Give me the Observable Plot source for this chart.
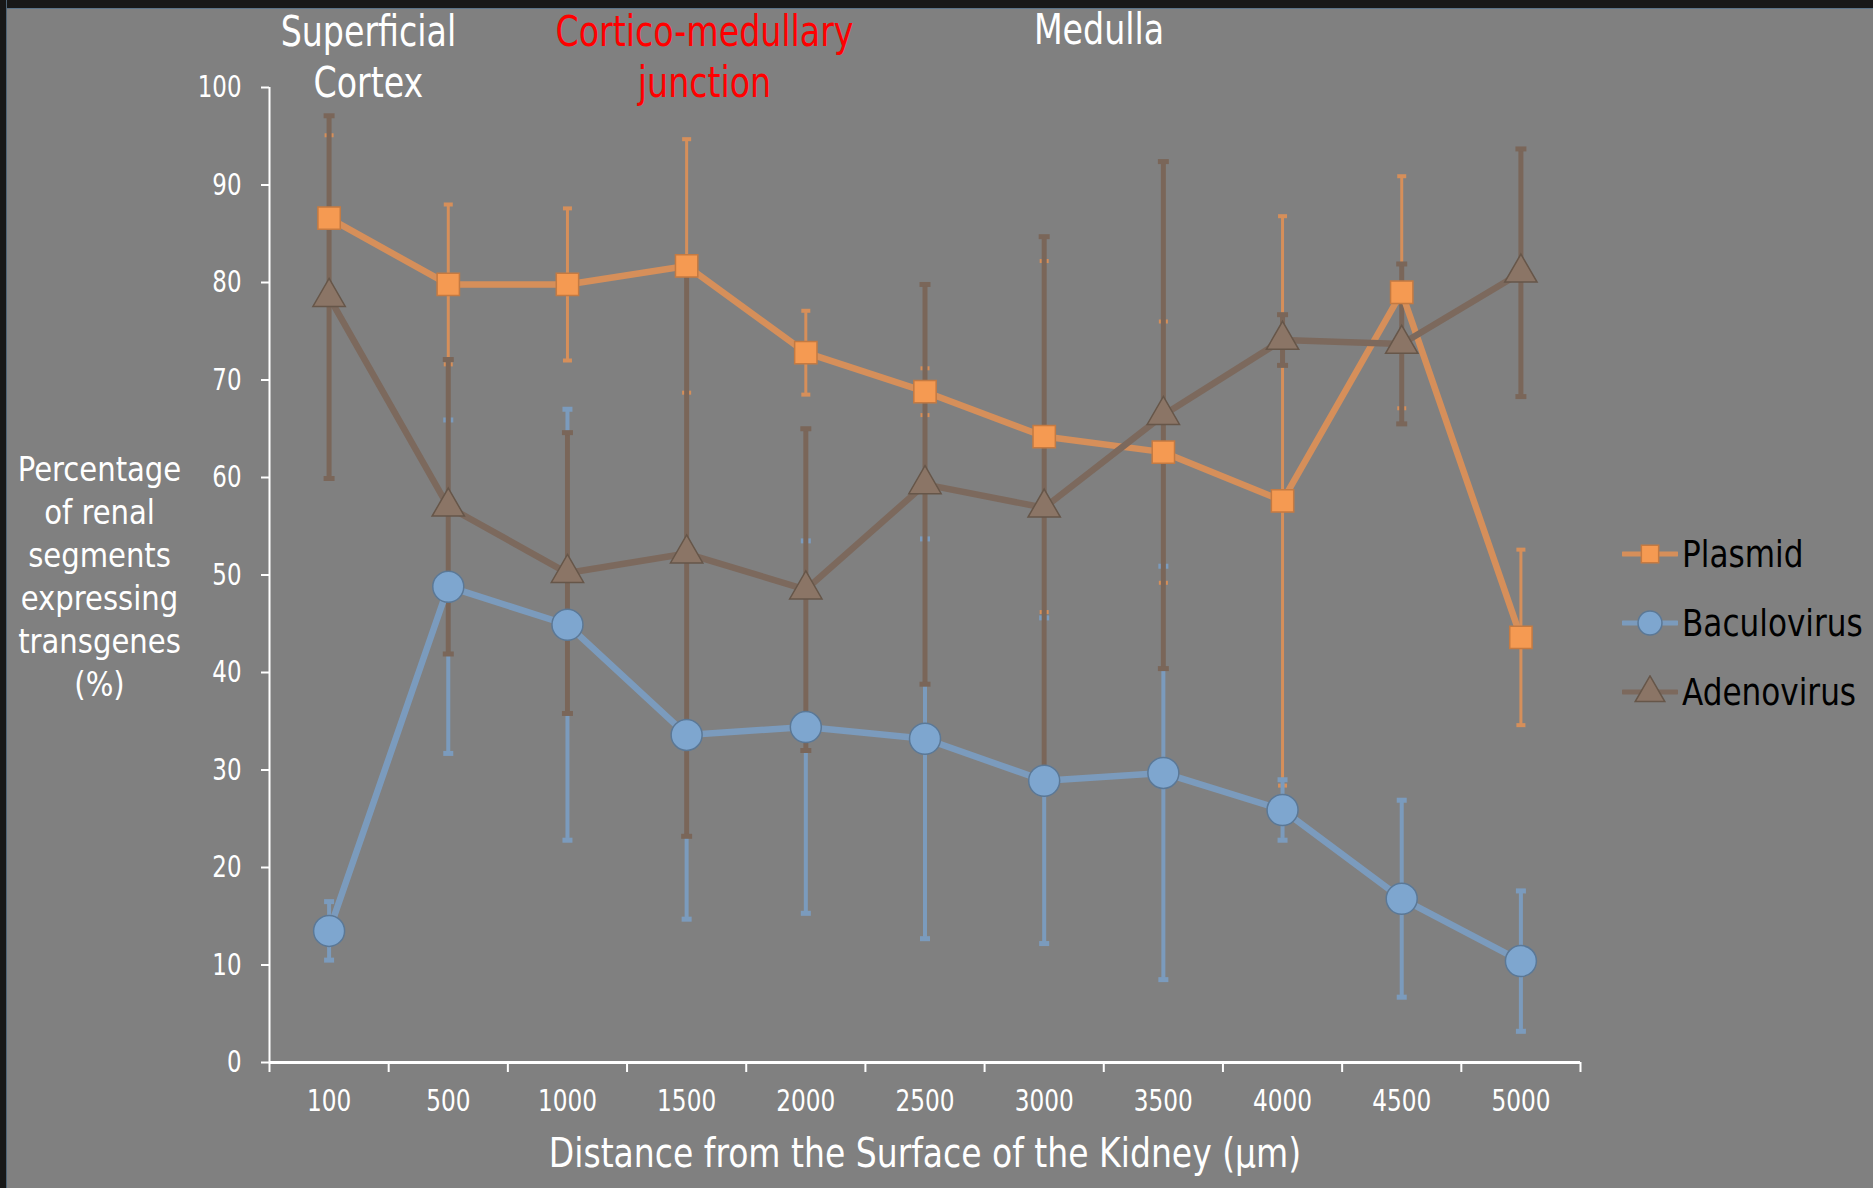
<!DOCTYPE html>
<html>
<head>
<meta charset="utf-8">
<script src="https://cdn.jsdelivr.net/npm/d3@7"></script>
<script src="https://cdn.jsdelivr.net/npm/@observablehq/plot@0.6"></script>
<style>
  html, body { margin: 0; padding: 0; background: #808080; }
  #wrap { position: relative; width: 1873px; height: 1188px; overflow: hidden; background: #808080; }
  #topbar { position: absolute; left: 0; top: 0; width: 1873px; height: 8px; background: #181818; border-bottom: 1px solid #5c7388; }
  #leftbar { position: absolute; left: 0; top: 0; width: 6px; height: 1188px; background: #181818; border-right: 1px solid #4f6476; }
  svg text { font-family: "DejaVu Sans Condensed", "Liberation Sans Narrow", "Liberation Sans", sans-serif; }
  #legend { position: absolute; left: 1622px; top: 519px; font-family: "DejaVu Sans Condensed", "Liberation Sans Narrow", "Liberation Sans", sans-serif; font-size: 38px; color: #000; }
  .row { display: flex; align-items: center; height: 69px; white-space: nowrap; }
  .row svg { margin-right: 4px; flex: none; }
  .row span { display: inline-block; transform: scaleX(0.91); transform-origin: 0 50%; }
</style>
</head>
<body>
<div id="wrap">
  <div id="chart"></div>
  <div id="legend"></div>
  <div id="topbar"></div>
  <div id="leftbar"></div>
</div>
<script>
// ---- data ----
const categories = ["100", "500", "1000", "1500", "2000", "2500", "3000", "3500", "4000", "4500", "5000"];
const seriesNames = ["Plasmid", "Baculovirus", "Adenovirus"];
const plasmid    = [86.6, 79.8, 79.8, 81.7, 72.8, 68.8, 64.2, 62.6, 57.6, 79.0, 43.6];
const plasmidErr = [8.5, 8.2, 7.8, 13.0, 4.3, 2.4, 18.0, 13.4, 29.2, 11.9, 9.0];
const baculo     = [13.5, 48.8, 44.9, 33.6, 34.4, 33.2, 28.9, 29.7, 25.9, 16.8, 10.4];
const baculoErr  = [3.0, 17.1, 22.1, 18.9, 19.1, 20.5, 16.7, 21.2, 3.1, 10.1, 7.2];
const adeno      = [78.5, 57.0, 50.2, 52.2, 48.5, 59.3, 56.9, 66.4, 74.1, 73.7, 81.0];
const adenoErr   = [18.6, 15.1, 14.4, 29.0, 16.5, 20.5, 27.8, 26.0, 2.6, 8.2, 12.7];
const yTicks = [0, 10, 20, 30, 40, 50, 60, 70, 80, 90, 100];
const xTitle = "Distance from the Surface of the Kidney (\u03bcm)";
const yTitle = "Percentage\nof renal\nsegments\nexpressing\ntransgenes\n(%)";
const zones = ["Superficial\nCortex", "Cortico-medullary\njunction", "Medulla"];

// ---- styles ----
const styles = {
  Plasmid:     {line: "#d68f5a", fill: "#f59a52", stroke: "#c47a42", err: "#d68f5a", errW: 3, capW: 9, capH: 4, symbol: "square", r: 12.6},
  Baculovirus: {line: "#7b9bbd", fill: "#7ea6cf", stroke: "#5b7896", err: "#7b9bbd", errW: 4, capW: 10, capH: 5, symbol: "circle", r: 15.5},
  Adenovirus:  {line: "#7c695d", fill: "#8b7566", stroke: "#665649", err: "#7a6659", errW: 5, capW: 11, capH: 5, symbol: "triangle", r: 12}
};

const valuesBy = {Plasmid: [plasmid, plasmidErr], Baculovirus: [baculo, baculoErr], Adenovirus: [adeno, adenoErr]};
const table = seriesNames.map(s => categories.map((c, i) => ({
  series: s, i, cat: c, v: valuesBy[s][0][i], lo: valuesBy[s][0][i] - valuesBy[s][1][i], hi: valuesBy[s][0][i] + valuesBy[s][1][i]
})));

function capSymbol(w, h) {
  return { draw(ctx) { ctx.rect(-w / 2, -h / 2, w, h); } };
}

const marks = [];
// error bars (series order, later on top)
table.forEach((rows, k) => {
  const st = styles[seriesNames[k]];
  marks.push(Plot.ruleX(rows, {x: "i", y1: "lo", y2: "hi", stroke: st.err, strokeWidth: st.errW}));
  marks.push(Plot.dot(rows, {x: "i", y: "hi", symbol: capSymbol(st.capW, st.capH), fill: st.err, stroke: "none", r: 1}));
  marks.push(Plot.dot(rows, {x: "i", y: "lo", symbol: capSymbol(st.capW, st.capH), fill: st.err, stroke: "none", r: 1}));
});
// lines
table.forEach((rows, k) => {
  const st = styles[seriesNames[k]];
  marks.push(Plot.line(rows, {x: "i", y: "v", stroke: st.line, strokeWidth: 6.5}));
});
// markers (with drop shadow)
table.forEach((rows, k) => {
  const st = styles[seriesNames[k]];
  marks.push(Plot.dot(rows, {x: "i", y: "v", symbol: st.symbol, r: st.r, fill: st.fill, stroke: st.stroke, strokeWidth: 1.5,
    style: {filter: "drop-shadow(1px 7px 4px rgba(0,0,0,0.55))"}}));
});

// axes
marks.push(
  Plot.ruleX([-0.5], {y1: 0, y2: 100, stroke: "white", strokeWidth: 2}),
  Plot.ruleY([0], {stroke: "white", strokeWidth: 3}),
  Plot.axisY({ticks: yTicks, tickSize: 8, tickPadding: 20, fontSize: 30, fill: "white", stroke: "white", strokeWidth: 2, label: null}),
  Plot.axisX({ticks: d3.range(-0.5, categories.length), tickFormat: () => "", tickSize: 10, stroke: "white", strokeWidth: 2, label: null}),
  Plot.axisX({ticks: d3.range(categories.length), tickFormat: i => categories[i], tickSize: 0, tickPadding: 27, fontSize: 30, fill: "white", label: null}),
  // axis titles
  Plot.text([xTitle], {frameAnchor: "bottom", dy: 104, fontSize: 41, fill: "white"}),
  Plot.text([yTitle], {frameAnchor: "left", dx: -170, y: 50, fontSize: 33, fill: "white", lineHeight: 1.3, textAnchor: "middle"}),
  // region annotations
  Plot.text([zones[0]], {x: 0.33, y: 103.3, fontSize: 42, fill: "white", lineHeight: 1.22}),
  Plot.text([zones[1]], {x: 3.15, y: 103.3, fontSize: 42, fill: "#ff0000", lineHeight: 1.22}),
  Plot.text([zones[2]], {x: 6.46, y: 105.8, fontSize: 42, fill: "white"})
);

const chart = Plot.plot({
  width: 1873,
  height: 1188,
  marginLeft: 269,
  marginRight: 293,
  marginTop: 87,
  marginBottom: 126,
  style: {background: "#808080", overflow: "visible"},
  x: {type: "linear", domain: [-0.5, categories.length - 0.5]},
  y: {domain: [0, 100]},
  marks
});
document.getElementById("chart").appendChild(chart);

// narrow the text horizontally about its anchor to mimic the condensed face of the original
function condenseEl(el, f) {
  const x = parseFloat(el.getAttribute("x")) || 0;
  const t = el.getAttribute("transform") || "";
  el.setAttribute("transform", `${t} translate(${x},0) scale(${f},1) translate(${-x},0)`);
}
chart.querySelectorAll('g[aria-label="y-axis tick label"] text').forEach(el => condenseEl(el, 0.85));
chart.querySelectorAll('g[aria-label="x-axis tick label"] text').forEach(el => condenseEl(el, 0.86));
chart.querySelectorAll('g[aria-label="text"] text').forEach(el => {
  const s = el.textContent;
  if (s.startsWith("Distance")) condenseEl(el, 0.896);
  else if (s.startsWith("Percentage")) condenseEl(el, 0.98);
  else condenseEl(el, 0.88);
});

// legend
const legend = d3.select("#legend");
seriesNames.forEach(s => {
  const st = styles[s];
  const row = legend.append("div").attr("class", "row");
  const svg = row.append("svg").attr("width", 56).attr("height", 34);
  svg.append("line").attr("x1", 1).attr("x2", 55).attr("y1", 17).attr("y2", 17)
    .attr("stroke", st.line).attr("stroke-width", 5).attr("stroke-linecap", "round");
  const sym = d3.symbol().type(s === "Plasmid" ? d3.symbolSquare : s === "Baculovirus" ? d3.symbolCircle : d3.symbolTriangle)
    .size(s === "Plasmid" ? 300 : s === "Baculovirus" ? 450 : 380);
  svg.append("path").attr("d", sym()).attr("transform", `translate(28,${s === "Adenovirus" ? 18 : 17})`)
    .attr("fill", st.fill).attr("stroke", st.stroke).attr("stroke-width", 1.5);
  row.append("span").text(s);
});
</script>
</body>
</html>
